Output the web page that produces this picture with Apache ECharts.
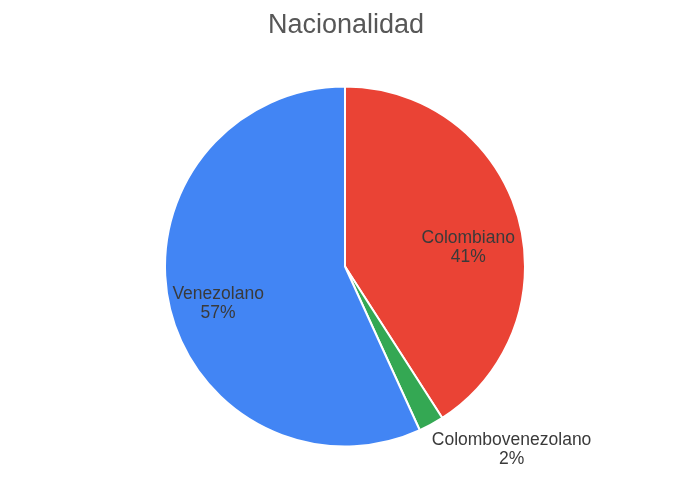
<!DOCTYPE html>
<html>
<head>
<meta charset="utf-8">
<script src="https://cdn.jsdelivr.net/npm/echarts@6/dist/echarts.min.js"></script>
<style>
  html, body { margin: 0; padding: 0; background: #fff; }
  #chart { width: 692px; height: 480px; }
</style>
</head>
<body>
<div id="chart"></div>
<script>
// datos (conteos aproximados)
let categories = ['Colombiano', 'Colombovenezolano', 'Venezolano']
let values = [18, 1, 25]
let colors = ['#EA4335', '#34A853', '#4285F4']
// desplazamiento de etiqueta respecto al punto "inside" de echarts
let labelShift = [[34, 7], [122, 102], [-36, 17]]

let chart = echarts.init(document.getElementById('chart'))

let pieData = categories.map((name, i) => {
  return {
    name: name,
    value: values[i],
    itemStyle: { color: colors[i] },
    label: { offset: labelShift[i] }
  }
})

chart.setOption({
  animation: false,
  title: {
    text: 'Nacionalidad',
    left: 'center',
    top: 7,
    textStyle: {
      fontFamily: 'Liberation Sans, Arial, sans-serif',
      fontSize: 27,
      fontWeight: 'normal',
      color: '#575757'
    }
  },
  series: [{
    type: 'pie',
    center: [345, 266.5],
    radius: [0, 180],
    startAngle: 90,
    clockwise: true,
    avoidLabelOverlap: false,
    itemStyle: {
      borderColor: '#fff',
      borderWidth: 2
    },
    label: {
      show: true,
      position: 'inside',
      formatter: (p) => p.name + '\n' + Math.round(p.percent) + '%',
      fontFamily: 'Liberation Sans, Arial, sans-serif',
      fontSize: 17.5,
      lineHeight: 19,
      color: '#3a3a3a',
      align: 'center'
    },
    labelLine: { show: false },
    data: pieData
  }]
})
</script>
</body>
</html>
